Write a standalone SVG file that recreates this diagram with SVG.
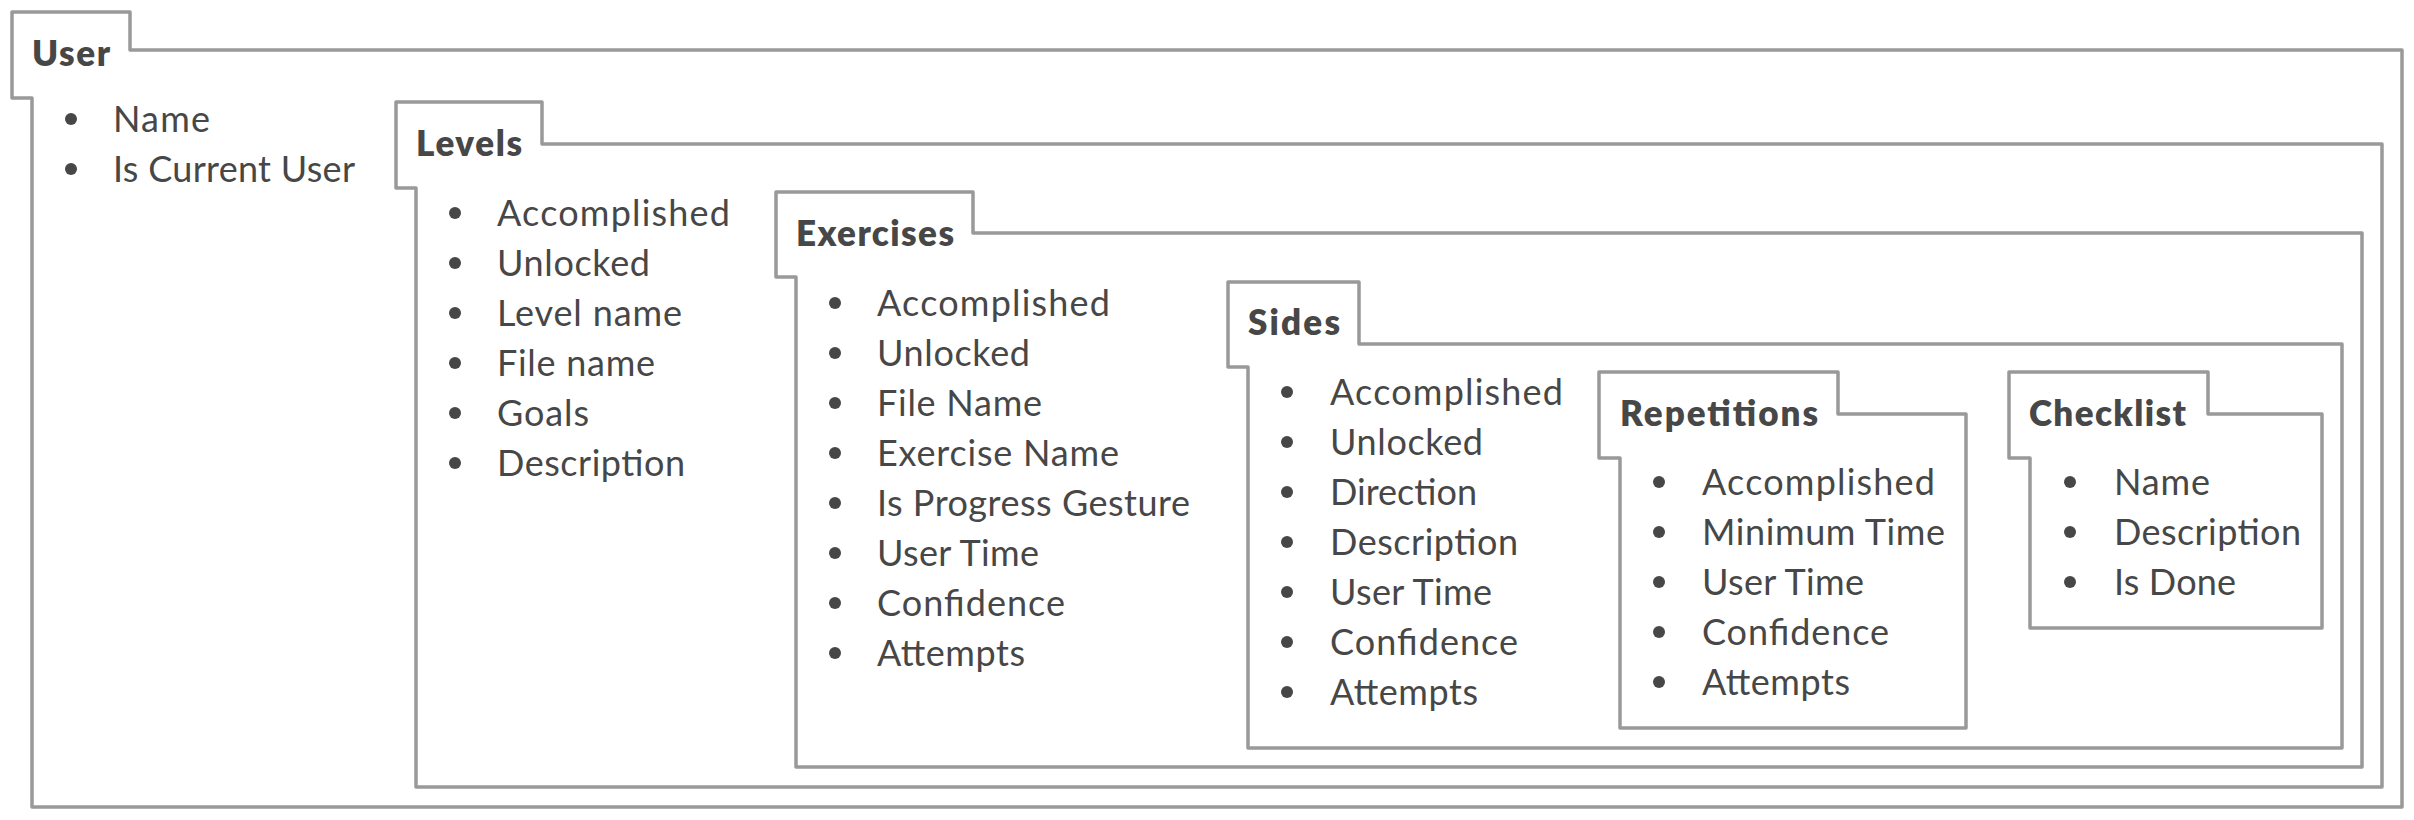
<svg xmlns="http://www.w3.org/2000/svg" width="2414" height="820" viewBox="0 0 2414 820">
<style>
.box{fill:#ffffff;stroke:#999999;stroke-width:3.5;stroke-linejoin:round}
.t{font-family:Lato,"Open Sans","Liberation Sans",sans-serif;font-size:36px;fill:#474747}
.h{font-weight:800;font-size:35px}
.dot{fill:#474747}
</style>
<rect x="0" y="0" width="2414" height="820" fill="#ffffff"/>
<g id="user">
<path class="box" d="M12,12 H130 V50 H2402 V807 H32 V98 H12 Z"/>
<text class="t h" x="32" y="66" textLength="78">User</text>
<circle class="dot" cx="71" cy="119" r="6"/><text class="t" x="113" y="132" textLength="97">Name</text>
<circle class="dot" cx="71" cy="169" r="6"/><text class="t" x="113" y="182" textLength="242">Is Current User</text>
</g>
<g id="levels">
<path class="box" d="M396,102 H542 V144 H2382 V787 H416 V188 H396 Z"/>
<text class="t h" x="416" y="156" textLength="106">Levels</text>
<circle class="dot" cx="455" cy="213" r="6"/><text class="t" x="497" y="226" textLength="233">Accomplished</text>
<circle class="dot" cx="455" cy="263" r="6"/><text class="t" x="497" y="276" textLength="153">Unlocked</text>
<circle class="dot" cx="455" cy="313" r="6"/><text class="t" x="497" y="326" textLength="185">Level name</text>
<circle class="dot" cx="455" cy="363" r="6"/><text class="t" x="497" y="376" textLength="158">File name</text>
<circle class="dot" cx="455" cy="413" r="6"/><text class="t" x="497" y="426" textLength="92">Goals</text>
<circle class="dot" cx="455" cy="463" r="6"/><text class="t" x="497" y="476" textLength="188">Description</text>
</g>
<g id="exercises">
<path class="box" d="M776,192 H973 V233 H2362 V767 H796 V277 H776 Z"/>
<text class="t h" x="796" y="246" textLength="158">Exercises</text>
<circle class="dot" cx="835" cy="303" r="6"/><text class="t" x="877" y="316" textLength="233">Accomplished</text>
<circle class="dot" cx="835" cy="353" r="6"/><text class="t" x="877" y="366" textLength="153">Unlocked</text>
<circle class="dot" cx="835" cy="403" r="6"/><text class="t" x="877" y="416" textLength="165">File Name</text>
<circle class="dot" cx="835" cy="453" r="6"/><text class="t" x="877" y="466" textLength="242">Exercise Name</text>
<circle class="dot" cx="835" cy="503" r="6"/><text class="t" x="877" y="516" textLength="313">Is Progress Gesture</text>
<circle class="dot" cx="835" cy="553" r="6"/><text class="t" x="877" y="566" textLength="162">User Time</text>
<circle class="dot" cx="835" cy="603" r="6"/><text class="t" x="877" y="616" textLength="188">Confidence</text>
<circle class="dot" cx="835" cy="653" r="6"/><text class="t" x="877" y="666" textLength="148">Attempts</text>
</g>
<g id="sides">
<path class="box" d="M1228,282 H1359 V344 H2342 V748 H1248 V367 H1228 Z"/>
<text class="t h" x="1248" y="335" textLength="92">Sides</text>
<circle class="dot" cx="1287" cy="392" r="6"/><text class="t" x="1330" y="405" textLength="233">Accomplished</text>
<circle class="dot" cx="1287" cy="442" r="6"/><text class="t" x="1330" y="455" textLength="153">Unlocked</text>
<circle class="dot" cx="1287" cy="492" r="6"/><text class="t" x="1330" y="505" textLength="147">Direction</text>
<circle class="dot" cx="1287" cy="542" r="6"/><text class="t" x="1330" y="555" textLength="188">Description</text>
<circle class="dot" cx="1287" cy="592" r="6"/><text class="t" x="1330" y="605" textLength="162">User Time</text>
<circle class="dot" cx="1287" cy="642" r="6"/><text class="t" x="1330" y="655" textLength="188">Confidence</text>
<circle class="dot" cx="1287" cy="692" r="6"/><text class="t" x="1330" y="705" textLength="148">Attempts</text>
</g>
<g id="repetitions">
<path class="box" d="M1599,372 H1838 V414 H1966 V728 H1620 V458 H1599 Z"/>
<text class="t h" x="1620" y="426" textLength="198">Repetitions</text>
<circle class="dot" cx="1659" cy="482" r="6"/><text class="t" x="1702" y="495" textLength="233">Accomplished</text>
<circle class="dot" cx="1659" cy="532" r="6"/><text class="t" x="1702" y="545" textLength="243">Minimum Time</text>
<circle class="dot" cx="1659" cy="582" r="6"/><text class="t" x="1702" y="595" textLength="162">User Time</text>
<circle class="dot" cx="1659" cy="632" r="6"/><text class="t" x="1702" y="645" textLength="187">Confidence</text>
<circle class="dot" cx="1659" cy="682" r="6"/><text class="t" x="1702" y="695" textLength="148">Attempts</text>
</g>
<g id="checklist">
<path class="box" d="M2009,372 H2208 V414 H2322 V628 H2030 V458 H2009 Z"/>
<text class="t h" x="2029" y="426" textLength="157">Checklist</text>
<circle class="dot" cx="2070" cy="482" r="6"/><text class="t" x="2114" y="495" textLength="96">Name</text>
<circle class="dot" cx="2070" cy="532" r="6"/><text class="t" x="2114" y="545" textLength="187">Description</text>
<circle class="dot" cx="2070" cy="582" r="6"/><text class="t" x="2114" y="595" textLength="122">Is Done</text>
</g>
<g id="connectors"></g>
</svg>
